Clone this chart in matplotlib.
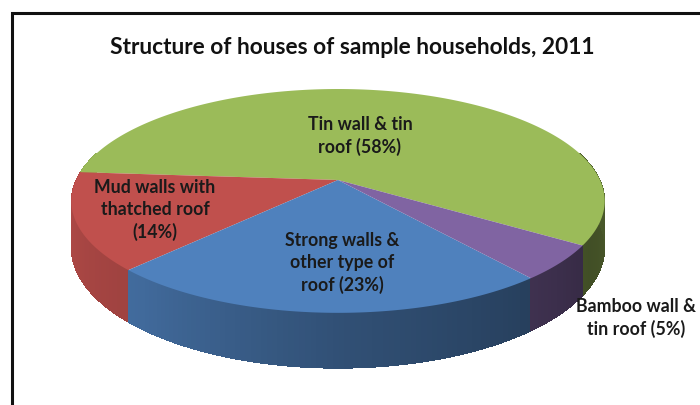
#!/usr/bin/env python3
import matplotlib
matplotlib.use("Agg")
import matplotlib.pyplot as plt
import numpy as np
from matplotlib.collections import PolyCollection

TITLE = "Structure of houses of sample households, 2011"
names = ["Tin wall & tin\nroof", "Mud walls with\nthatched roof\n", "Strong walls &\nother type of\nroof", "Bamboo wall &\ntin roof"]
shares = [58, 14, 23, 5]
colors = ["#9BBB59", "#C0504D", "#4F81BD", "#8064A2"]

# picture coordinates of the fake 3D disc
CX, CY = 338, 180
RX, RY = 262, 108
K = 0.187          # perspective strength
DEPTH = 45
START = -33.0      # angle of first slice edge, degrees
label_pos = [(360, 136), (155, 210), (342, 263), (636, 318)]


def project(theta, drop=0.0):
    """disc angle (deg) -> picture x, y"""
    t = np.radians(theta)
    u, v = np.cos(t), np.sin(t)
    d = 1 + K * v
    return CX + RX * u / d, CY + (drop - RY * v) / d


def shade(hex_col, f):
    return tuple(c * f for c in matplotlib.colors.to_rgb(hex_col))


def main() -> None:
    plt.rcParams["font.family"] = ["Lato", "DejaVu Sans"]
    fig = plt.figure(figsize=(7, 4.05), dpi=100)
    ax = fig.add_axes([0, 0, 1, 1])
    ax.set_xlim(0, 700)
    ax.set_ylim(405, 0)
    ax.axis("off")

    edges = START + np.cumsum([0] + shares) * 3.6

    # side wall first, the top covers whatever is behind
    polys, cols = [], []
    for i, col in enumerate(colors):
        for lo in (edges[i], edges[i] - 360):
            hi = lo + shares[i] * 3.6
            for a in np.arange(max(lo, -195), min(hi, 15), 1.0):
                b = min(a + 1.0, hi)
                x0, y0 = project(a)
                x1, y1 = project(b)
                x2, y2 = project(b, DEPTH)
                x3, y3 = project(a, DEPTH)
                # dark towards the right hand side
                f = np.interp(a, [-190, -130, -90, -30, 10], [0.95, 0.82, 0.62, 0.42, 0.5])
                polys.append([(x0, y0), (x1, y1), (x2, y2), (x3, y3)])
                cols.append(shade(col, f))
    ax.add_collection(PolyCollection(polys, facecolors=cols, edgecolors="none", antialiaseds=False))

    # top of the disc
    for i, col in enumerate(colors):
        a = np.linspace(edges[i], edges[i + 1], 200)
        x, y = project(a)
        ax.fill(np.r_[CX, x], np.r_[CY, y], color=col, lw=0)

    for name, share, (lx, ly) in zip(names, shares, label_pos):
        txt = f"{name} ({share}%)".replace("\n (", "\n(")
        ax.text(lx, ly, txt, ha="center", va="center", fontsize=12.8,
                fontweight="bold", color="#1a1a1a", linespacing=1.35)

    ax.text(352, 47, TITLE, ha="center", va="center", fontsize=16.4,
            fontweight="bold", color="#111111")

    # frame of the pasted chart
    ax.plot([11.5, 11.5, 700], [405, 13, 13], color="#111111", lw=2.2, solid_joinstyle="miter")

    fig.savefig("out.png", dpi=100)


if __name__ == "__main__":
    main()
